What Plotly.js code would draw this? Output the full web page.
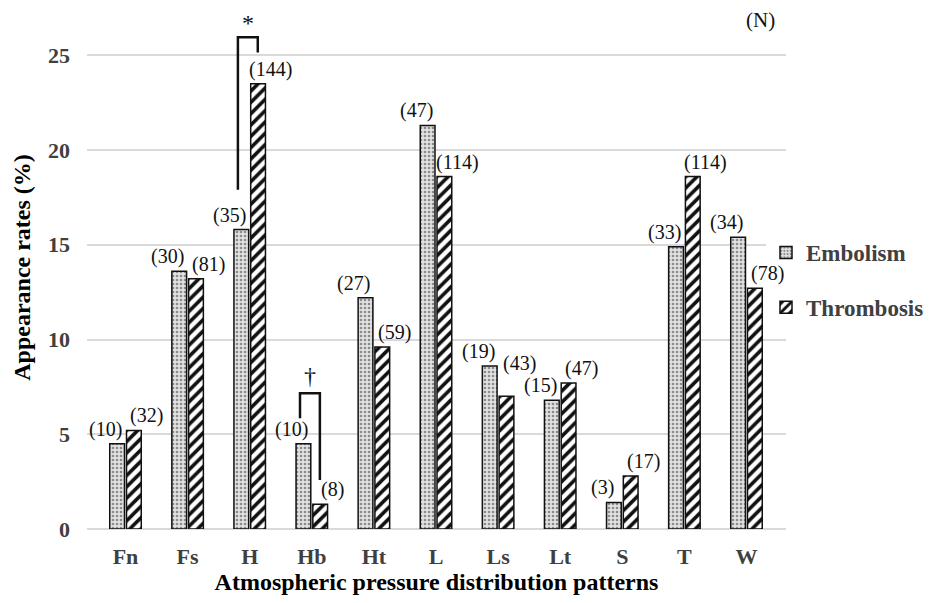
<!DOCTYPE html>
<html>
<head>
<meta charset="utf-8">
<script src="https://cdn.plot.ly/plotly-3.0.1.min.js"></script>
<style>
  html, body { margin: 0; padding: 0; background: #fff; }
  #chart { width: 935px; height: 603px; }
</style>
</head>
<body>
<div id="chart"></div>
<script>
// categories and values
const patterns = ['Fn', 'Fs', 'H', 'Hb', 'Ht', 'L', 'Ls', 'Lt', 'S', 'T', 'W'];
const embolismRate = [4.5, 13.6, 15.8, 4.5, 12.2, 21.3, 8.6, 6.8, 1.4, 14.9, 15.4];
const thrombosisRate = [5.2, 13.2, 23.5, 1.3, 9.6, 18.6, 7.0, 7.7, 2.8, 18.6, 12.7];
const embolismN = [10, 30, 35, 10, 27, 47, 19, 15, 3, 33, 34];
const thrombosisN = [32, 81, 144, 8, 59, 114, 43, 47, 17, 114, 78];

// significance brackets: category, left/right heights, top, mark
const bracketCat = ['H', 'Hb'];
const bracketLeftY = [17.9, 5.85];
const bracketRightY = [25.15, 2.58];
const bracketTopY = [25.95, 7.17];
const bracketMark = ['*', '†'];
const bracketMarkY = [26.7, 8.1];

const serif = 'Liberation Serif';

// plot area in pixels (used to place paper-referenced items)
const plotLeft = 87, plotRight = 786, plotTop = 6, plotBottom = 529;
const plotW = plotRight - plotLeft, plotH = plotBottom - plotTop;

// label nudge (pixels up) where the original moved a label to keep it clear
const labelLift = { 'thr-Ls': 18 };

const traceEmb = {
    x: patterns,
    y: embolismRate,
    type: 'bar',
    name: 'Embolism',
    legendgroup: 'emb',
    marker: {
        color: '#d9d9d9',
        line: { color: '#111', width: 1.5 },
        pattern: { shape: '.', fgcolor: '#8a8a8a', bgcolor: '#e2e2e2', size: 4, solidity: 0.35 }
    },
    hoverinfo: 'skip'
};

const traceThr = {
    x: patterns,
    y: thrombosisRate,
    type: 'bar',
    name: 'Thrombosis',
    legendgroup: 'thr',
    marker: {
        color: '#fff',
        line: { color: '#111', width: 1.5 },
        pattern: { shape: '/', fgcolor: '#111', bgcolor: '#fff', size: 8, solidity: 0.45 }
    },
    hoverinfo: 'skip'
};

// count labels above the bars
const annotations = [];
patterns.forEach((p, i) => {
    annotations.push({
        x: p, y: embolismRate[i], xref: 'x', yref: 'y',
        text: '(' + embolismN[i] + ')', showarrow: false,
        xanchor: 'center', yanchor: 'bottom', xshift: -20,
        yshift: 1 + (labelLift['emb-' + p] || 0),
        font: { family: serif, size: 20, color: '#111' }
    });
    annotations.push({
        x: p, y: thrombosisRate[i], xref: 'x', yref: 'y',
        text: '(' + thrombosisN[i] + ')', showarrow: false,
        xanchor: 'center', yanchor: 'bottom', xshift: 21,
        yshift: 1 + (labelLift['thr-' + p] || 0),
        font: { family: serif, size: 20, color: '#111' }
    });
});

// brackets
const shapes = [];
bracketCat.forEach((c, k) => {
    const idx = patterns.indexOf(c);
    const xl = idx - 0.19, xr = idx + 0.13;
    shapes.push({
        type: 'path', xref: 'x', yref: 'y',
        path: 'M ' + xl + ',' + bracketLeftY[k] + ' L ' + xl + ',' + bracketTopY[k] +
              ' L ' + xr + ',' + bracketTopY[k] + ' L ' + xr + ',' + bracketRightY[k],
        line: { color: '#111', width: 2.5 }
    });
    annotations.push({
        x: idx - 0.03, y: bracketMarkY[k], xref: 'x', yref: 'y',
        text: bracketMark[k], showarrow: false,
        font: { family: serif, size: 24, color: '#111' }
    });
});

annotations.push({
    x: (760 - plotLeft) / plotW, y: (plotBottom - 20) / plotH,
    xref: 'paper', yref: 'paper', xanchor: 'center', yanchor: 'middle',
    text: '(N)', showarrow: false,
    font: { family: serif, size: 21, color: '#111' }
});

const layout = {
    width: 935,
    height: 603,
    font: { family: serif, color: '#111' },
    margin: { t: plotTop, r: 935 - plotRight, b: 603 - plotBottom, l: plotLeft, autoexpand: false },
    paper_bgcolor: '#fff',
    plot_bgcolor: '#fff',
    barmode: 'group',
    bargap: 0.46,
    bargroupgap: 0.12,
    showlegend: true,
    legend: {
        x: (766 - plotLeft) / plotW, xanchor: 'left',
        y: (plotBottom - 280) / plotH, yanchor: 'middle',
        tracegroupgap: 22,
        font: { family: serif, size: 23, color: '#404040', weight: 'bold' },
        itemwidth: 30
    },
    xaxis: {
        type: 'category',
        tickfont: { family: serif, size: 22, color: '#404040', weight: 'bold' },
        ticks: '',
        ticklabelstandoff: 12,
        showline: false,
        showgrid: false,
        title: {
            text: 'Atmospheric pressure distribution patterns',
            font: { family: serif, size: 24, color: '#000', weight: 'bold' },
            standoff: 2
        }
    },
    yaxis: {
        range: [0, 27.6],
        tickvals: [0, 5, 10, 15, 20, 25],
        tickfont: { family: serif, size: 22, color: '#404040', weight: 'bold' },
        ticks: '',
        ticklabelstandoff: 16,
        gridcolor: '#d9d9d9',
        gridwidth: 1.5,
        zeroline: true,
        zerolinecolor: '#d9d9d9',
        zerolinewidth: 1.5,
        showline: false,
        title: {
            text: 'Appearance rates (%)',
            font: { family: serif, size: 24, color: '#000', weight: 'bold' },
            standoff: 10
        }
    },
    annotations: annotations,
    shapes: shapes
};

Plotly.newPlot('chart', [traceEmb, traceThr], layout, { displayModeBar: false, responsive: false });
</script>
</body>
</html>
